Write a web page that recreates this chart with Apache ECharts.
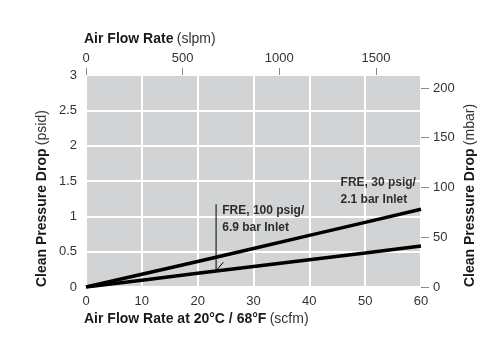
<!DOCTYPE html>
<html>
<head>
<meta charset="utf-8">
<script src="https://cdn.jsdelivr.net/npm/echarts@6/dist/echarts.min.js"></script>
<style>html,body{margin:0;padding:0;background:#fff}#c{width:500px;height:358px}</style>
</head>
<body>
<div id="c"></div>
<script>
// Data
const flowScfm = [0, 10, 20, 30, 40, 50, 60];
const drop30psig = [0, 0.18, 0.36, 0.545, 0.73, 0.915, 1.10];
const drop100psig = [0, 0.097, 0.195, 0.29, 0.385, 0.48, 0.58];
const leaderX = [23.3, 23.3, 24.6];
const leaderY = [1.17, 0.23, 0.35];
const label100Pos = [24.4, 0.965];
const label30Pos = [45.6, 1.35];
const label100Text = 'FRE, 100 psig/\n6.9 bar Inlet';
const label30Text = 'FRE, 30 psig/\n2.1 bar Inlet';
const psidTicks = [0, 0.5, 1, 1.5, 2, 2.5, 3];
const mbarTicks = [0, 50, 100, 150, 200];
const slpmTicks = [0, 500, 1000, 1500];
const scfmTicks = [0, 10, 20, 30, 40, 50, 60];

const FONT = 'Liberation Sans, Arial, sans-serif';
const NARROW = 'Liberation Sans Narrow, Liberation Sans, Arial, sans-serif';
const chart = echarts.init(document.getElementById('c'), null, {renderer: 'canvas'});

const rich = {
  b: {fontFamily: FONT, fontSize: 14, fontWeight: 'bold', color: '#1a1a1a'},
  n: {fontFamily: FONT, fontSize: 14, fontWeight: 'normal', color: '#333'}
};
const plain = v => String(v);

chart.setOption({
  animation: false,
  grid: {left: 86, right: 79, top: 75, bottom: 71, show: true, backgroundColor: '#d1d3d4', borderWidth: 0},
  xAxis: [
    {
      type: 'value', position: 'bottom', min: 0, max: 60, interval: 10,
      axisLine: {show: false, onZero: false}, axisTick: {show: false},
      axisLabel: {margin: 8, fontFamily: FONT, fontSize: 13, color: '#333', formatter: plain, customValues: scfmTicks},
      splitLine: {show: true, lineStyle: {color: '#ffffff', width: 2}},
      name: '{b|Air Flow Rate at 20°C / 68°F} {n|(scfm)}',
      nameLocation: 'start', nameGap: 0,
      nameTextStyle: {align: 'left', verticalAlign: 'top', padding: [25, 0, 0, -2], rich: rich}
    },
    {
      type: 'value', position: 'top', min: 0, max: 1733, interval: 500,
      axisLine: {show: false, onZero: false},
      axisTick: {show: true, length: 7, lineStyle: {color: '#888'}, customValues: slpmTicks},
      axisLabel: {margin: 10, fontFamily: FONT, fontSize: 13, color: '#333', formatter: plain, customValues: slpmTicks},
      splitLine: {show: false},
      name: '{b|Air Flow Rate} {n|(slpm)}',
      nameLocation: 'start', nameGap: 0,
      nameTextStyle: {align: 'left', verticalAlign: 'bottom', padding: [0, 0, 29, -2], rich: rich}
    }
  ],
  yAxis: [
    {
      type: 'value', position: 'left', min: 0, max: 3, interval: 0.5,
      axisLine: {show: false, onZero: false}, axisTick: {show: false},
      axisLabel: {margin: 9, fontFamily: FONT, fontSize: 13, color: '#333', formatter: plain, customValues: psidTicks},
      splitLine: {show: true, lineStyle: {color: '#ffffff', width: 2}},
      name: '{b|Clean Pressure Drop} {n|(psid)}',
      nameLocation: 'start', nameGap: 0, nameRotate: 90,
      nameTextStyle: {align: 'left', verticalAlign: 'bottom', padding: [0, 0, 37, 0], rich: rich}
    },
    {
      type: 'value', position: 'right', min: 0, max: 213, interval: 50,
      axisLine: {show: false, onZero: false},
      axisTick: {show: true, length: 8, lineStyle: {color: '#888'}, customValues: mbarTicks},
      axisLabel: {margin: 12, fontFamily: FONT, fontSize: 13, color: '#333', formatter: plain, customValues: mbarTicks},
      splitLine: {show: false},
      name: '{b|Clean Pressure Drop} {n|(mbar)}',
      nameLocation: 'start', nameGap: 0, nameRotate: 90,
      nameTextStyle: {align: 'left', verticalAlign: 'top', padding: [42, 0, 0, 0], rich: rich}
    }
  ],
  series: [
    {
      type: 'line', name: 'FRE, 30 psig', xAxisIndex: 0, yAxisIndex: 0,
      data: flowScfm.map((x, i) => [x, drop30psig[i]]),
      showSymbol: false, symbol: 'none', smooth: false,
      lineStyle: {color: '#000', width: 3.5}
    },
    {
      type: 'line', name: 'FRE, 100 psig', xAxisIndex: 0, yAxisIndex: 0,
      data: flowScfm.map((x, i) => [x, drop100psig[i]]),
      showSymbol: false, symbol: 'none', smooth: false,
      lineStyle: {color: '#000', width: 3.5}
    },
    {
      type: 'line', name: 'leader', xAxisIndex: 0, yAxisIndex: 0,
      data: leaderX.map((x, i) => [x, leaderY[i]]),
      showSymbol: false, symbol: 'none',
      lineStyle: {color: '#000', width: 1}
    },
    {
      type: 'scatter', name: 'labels', xAxisIndex: 0, yAxisIndex: 0,
      symbolSize: 0,
      data: [
        {value: label100Pos, label: {formatter: label100Text}},
        {value: label30Pos, label: {formatter: label30Text}}
      ],
      label: {
        show: true, position: 'inside', align: 'left', verticalAlign: 'middle',
        fontFamily: NARROW, fontSize: 12, fontWeight: 'bold', color: '#000', lineHeight: 17
      },
      emphasis: {disabled: true}, silent: true
    }
  ]
});
</script>
</body>
</html>
